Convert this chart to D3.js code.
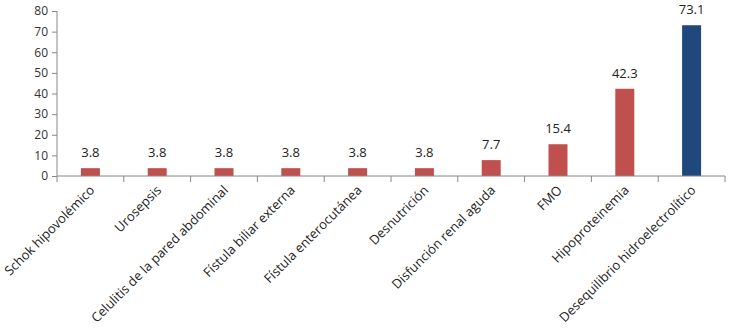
<!DOCTYPE html>
<html>
<head>
<meta charset="utf-8">
<script src="https://cdn.jsdelivr.net/npm/d3@7"></script>
<style>
  body { margin: 0; background: #fff; }
  svg { display: block; font-family: "Open Sans", "Liberation Sans", sans-serif; }
</style>
</head>
<body>
<svg width="729" height="336"></svg>
<script>
// datos del gráfico
const categories = [
  "Schok hipovolémico", "Urosepsis", "Celulitis de la pared abdominal",
  "Fístula biliar externa", "Fístula enterocutánea", "Desnutrición",
  "Disfunción renal aguda", "FMO", "Hipoproteinemia",
  "Desequilibrio hidroelectrolítico"
];
const values = [3.8, 3.8, 3.8, 3.8, 3.8, 3.8, 7.7, 15.4, 42.3, 73.1];
const highlighted = ["Desequilibrio hidroelectrolítico"];
const yTicks = [0, 10, 20, 30, 40, 50, 60, 70, 80];

const margin = { left: 57, right: 4, top: 11, bottom: 160 };
const width = 729 - margin.left - margin.right,
      height = 336 - margin.top - margin.bottom;

const svg = d3.select("svg")
  .append("g")
  .attr("transform", `translate(${margin.left},${margin.top})`);

const x = d3.scaleBand().domain(categories).range([0, width]).paddingInner(0).paddingOuter(0);
const y = d3.scaleLinear().domain([0, 80]).range([height, 0]);

const barW = 19;

// barras
svg.selectAll("rect.bar")
  .data(categories)
  .enter().append("rect")
  .attr("class", "bar")
  .attr("x", (d) => x(d) + x.bandwidth() / 2 - barW / 2)
  .attr("y", (d, i) => y(values[i]))
  .attr("width", barW)
  .attr("height", (d, i) => y(0) - y(values[i]))
  .attr("fill", (d) => highlighted.includes(d) ? "#1F497D" : "#C0504D");

// etiquetas de valores
svg.selectAll("text.val")
  .data(categories)
  .enter().append("text")
  .attr("class", "val")
  .attr("x", (d) => x(d) + x.bandwidth() / 2)
  .attr("y", (d, i) => y(values[i]) - 11)
  .attr("text-anchor", "middle")
  .style("font-size", "13px")
  .style("fill", "#222")
  .text((d, i) => values[i].toFixed(1));

// eje Y
const yAxis = svg.append("g")
  .call(d3.axisLeft(y).tickValues(yTicks).tickSize(5).tickPadding(4));
yAxis.select(".domain").attr("stroke", "#888").attr("d", `M0,0V${height}`);
yAxis.selectAll(".tick line").attr("stroke", "#888");
yAxis.selectAll(".tick text")
  .style("font-size", "12px")
  .style("fill", "#333")
  .style("font-family", "'Open Sans', sans-serif");

// eje X
const xg = svg.append("g").attr("transform", `translate(0,${height})`);
xg.append("line")
  .attr("x1", 0).attr("x2", width)
  .attr("stroke", "#888");
const bounds = categories.map((d) => x(d)).concat([width]);
xg.selectAll("line.tk")
  .data(bounds)
  .enter().append("line")
  .attr("class", "tk")
  .attr("x1", (d) => d).attr("x2", (d) => d)
  .attr("y1", 0).attr("y2", 6)
  .attr("stroke", "#888");

xg.selectAll("text.lbl")
  .data(categories)
  .enter().append("text")
  .attr("class", "lbl")
  .attr("text-anchor", "end")
  .attr("transform", (d) => `translate(${x(d) + x.bandwidth() / 2 + 5},${15}) rotate(-45)`)
  .style("font-size", "13px")
  .style("fill", "#222")
  .text((d) => d);
</script>
</body>
</html>
